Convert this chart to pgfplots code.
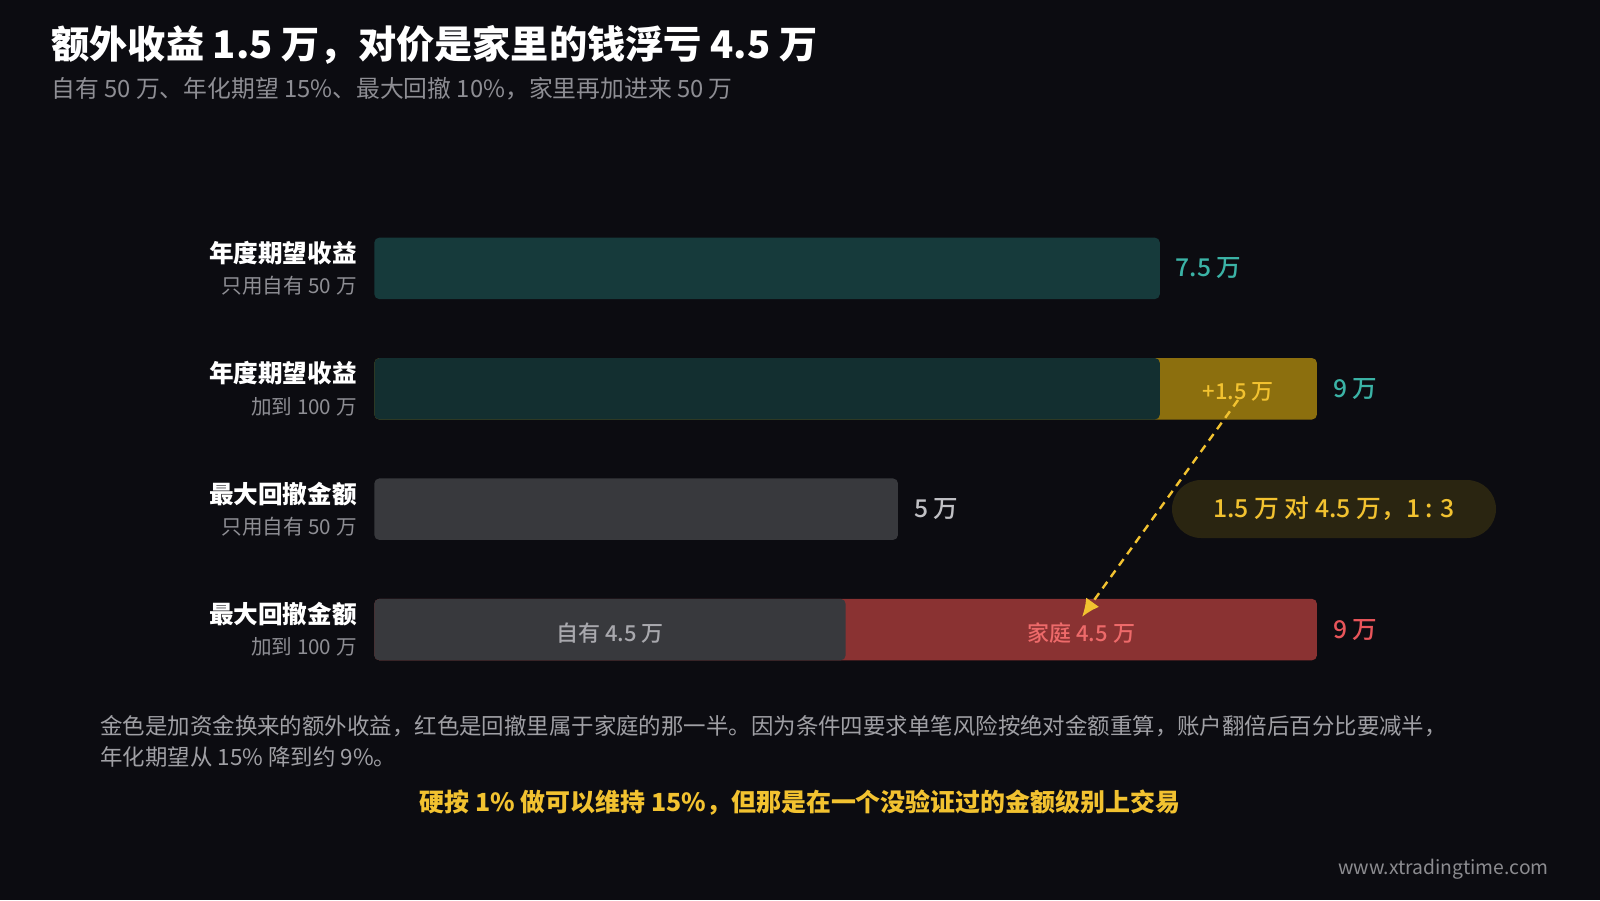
\documentclass[border=0pt]{standalone}
\usepackage{pgfplots}
\pgfplotsset{compat=1.18}
\usepackage{fontspec}
\setmainfont{Noto Sans CJK SC}
\newfontfamily\medfont{Noto Sans CJK SC Medium}
\usetikzlibrary{arrows.meta}
\definecolor{bg}{HTML}{0C0C11}
\definecolor{tealA}{HTML}{163A3B}
\definecolor{tealB}{HTML}{132F30}
\definecolor{grayB}{HTML}{38393D}
\definecolor{goldB}{HTML}{8C6F0E}
\definecolor{redB}{HTML}{8A3232}
\definecolor{tealT}{HTML}{3BB3A6}
\definecolor{redT}{HTML}{E8555A}
\definecolor{goldT}{HTML}{F2C230}
\definecolor{pill}{HTML}{2A2511}
\definecolor{subT}{HTML}{8E8E94}
\definecolor{noteT}{HTML}{A0A0A5}
\definecolor{valG}{HTML}{C0C0C4}
\begin{document}
\begin{tikzpicture}
\begin{scope}[x=0.5pt,y=-0.5pt]
\fill[bg] (0,0) rectangle (1600,900);
\end{scope}
\begin{axis}[
  at={(0pt,-450pt)}, anchor=south west,
  width=800pt, height=450pt, scale only axis,
  xmin=-3.574, xmax=11.703, ymin=-5.246, ymax=2.229,
  axis lines=none, xtick=\empty, ytick=\empty,
  clip=false,
]
% layered bars (totals first, parts on top)
\addplot[xbar, bar width=30.75pt, bar shift=0pt, fill=goldB, draw=none, rounded corners=2.5pt] coordinates {(9,-1)};
\addplot[xbar, bar width=30.75pt, bar shift=0pt, fill=redB, draw=none, rounded corners=2.5pt] coordinates {(9,-3)};
\addplot[xbar, bar width=30.75pt, bar shift=0pt, fill=tealA, draw=none, rounded corners=2.5pt] coordinates {(7.5,0)};
\addplot[xbar, bar width=30.75pt, bar shift=0pt, fill=tealB, draw=none, rounded corners=2.5pt] coordinates {(7.5,-1)};
\addplot[xbar, bar width=30.75pt, bar shift=0pt, fill=grayB, draw=none, rounded corners=2.5pt] coordinates {(5,-2) (4.5,-3)};
% arrow
\addplot[goldT, line width=1.2pt, dash pattern=on 4pt off 3pt, -{Latex[length=9pt,width=8pt]}] coordinates {(8.247,-1.093) (6.757,-2.895)};
% in-bar labels
\node[text=goldT, font=\fontsize{11}{13}\medfont] at (axis cs:8.25,-1.03) {+1.5 万};
\node[text={rgb,255:red,168;green,168;blue,173}, font=\fontsize{11}{13}\medfont] at (axis cs:2.25,-3.03) {自有 4.5 万};
\node[text={rgb,255:red,238;green,106;blue,106}, font=\fontsize{11}{13}\medfont] at (axis cs:6.75,-3.03) {家庭 4.5 万};
% value labels
\node[text=tealT, anchor=west, inner sep=0pt, font=\fontsize{12.3}{14}\medfont] at (axis cs:7.65,0) {7.5 万};
\node[text=tealT, anchor=west, inner sep=0pt, font=\fontsize{12.3}{14}\medfont] at (axis cs:9.15,-1) {9 万};
\node[text=valG, anchor=west, inner sep=0pt, font=\fontsize{12.3}{14}\medfont] at (axis cs:5.15,-2) {5 万};
\node[text=redT, anchor=west, inner sep=0pt, font=\fontsize{12.3}{14}\medfont] at (axis cs:9.15,-3) {9 万};
\end{axis}
\begin{scope}[x=0.5pt,y=-0.5pt]
% title
\node[anchor=west, inner sep=0pt, text=white, font=\fontsize{19.1}{22}\bfseries] at (51,45) {额外收益 1.5 万，对价是家里的钱浮亏 4.5 万};
\node[anchor=west, inner sep=0pt, text=subT, font=\fontsize{11.9}{14}\selectfont] at (51,89) {自有 50 万、年化期望 15\%、最大回撤 10\%，家里再加进来 50 万};
% category labels
\foreach \yy/\a/\b in {268.4/年度期望收益/只用自有 50 万, 388.8/年度期望收益/加到 100 万, 509.2/最大回撤金额/只用自有 50 万, 629.6/最大回撤金额/加到 100 万}{
  \node[anchor=east, inner sep=0pt, text=white, font=\fontsize{12.3}{14}\bfseries] at (357,\yy-15.3) {\a};
  \node[anchor=east, inner sep=0pt, text=subT, font=\fontsize{10.3}{12}\selectfont] at (357,\yy+17.6) {\b};
}
% pill
\node[fill=pill, rounded corners=14.5pt, minimum width=162pt, minimum height=29pt, inner sep=0pt, text=goldT, font=\fontsize{12.4}{14}\medfont] at (1334,509) {1.5 万 对 4.5 万，1 : 3};
% notes
\node[anchor=west, inner sep=0pt, text=noteT, font=\fontsize{11.22}{13}\selectfont] at (100,726) {金色是加资金换来的额外收益，红色是回撤里属于家庭的那一半。因为条件四要求单笔风险按绝对金额重算，账户翻倍后百分比要减半，};
\node[anchor=west, inner sep=0pt, text=noteT, font=\fontsize{11.22}{13}\selectfont] at (100,757) {年化期望从 15\% 降到约 9\%。};
\node[inner sep=0pt, text=goldT, font=\fontsize{12.47}{14}\bfseries] at (800,803) {硬按 1\% 做可以维持 15\%，但那是在一个没验证过的金额级别上交易};
\node[anchor=east, inner sep=0pt, text={rgb,255:red,140;green,140;blue,144}, font=\fontsize{9.66}{12}\selectfont] at (1549,869) {www.xtradingtime.com};
\end{scope}
\end{tikzpicture}
\end{document}
